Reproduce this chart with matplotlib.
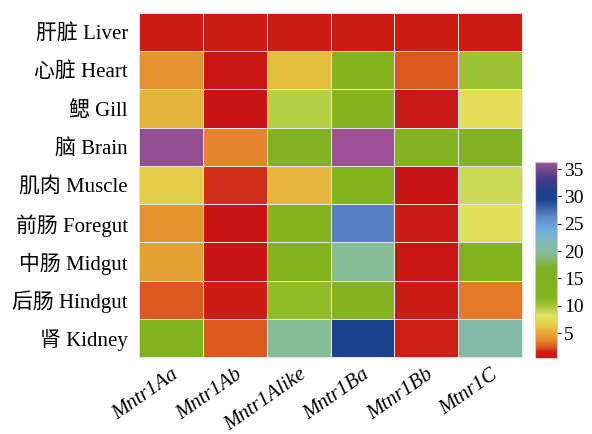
import numpy as np
import matplotlib
matplotlib.use('Agg')
import matplotlib.pyplot as plt
from matplotlib.colors import LinearSegmentedColormap

plt.rcParams['font.family'] = ['Liberation Serif', 'Noto Sans CJK SC']

tissues = ['肝脏 Liver', '心脏 Heart', '鳃 Gill', '脑 Brain', '肌肉 Muscle',
           '前肠 Foregut', '中肠 Midgut', '后肠 Hindgut', '肾 Kidney']
genes = ['Mntr1Aa', 'Mntr1Ab', 'Mntr1Alike', 'Mntr1Ba', 'Mtnr1Bb', 'Mtnr1C']

liver = [1.0, 1.0, 1.0, 1.0, 1.0, 1.0]
heart = [4.2, 0.6, 5.9, 12.5, 2.5, 10.3]
gill = [5.6, 0.43, 9.3, 12.0, 0.9, 7.6]
brain = [36.0, 3.6, 14.0, 36.3, 14.0, 14.0]
muscle = [6.6, 1.8, 5.7, 12.5, 0.5, 8.7]
foregut = [4.2, 0.45, 12.5, 26.5, 0.9, 7.9]
midgut = [4.9, 0.45, 13.5, 19.5, 0.7, 13.5]
hindgut = [2.4, 1.2, 10.8, 12.2, 1.1, 3.3]
kidney = [13.5, 2.4, 19.5, 30.0, 1.3, 20.5]

vmin, vmax = 0.43, 36.3
cbar_ticks = [5, 10, 15, 20, 25, 30, 35]

# colour ramp anchors (value, colour)
anchors = [(0.43, '#C81414'), (1.5, '#CC2216'), (2.5, '#DC6020'),
           (3.7, '#E58A2E'), (5.5, '#E5B43C'), (7.3, '#E3DC52'),
           (8.2, '#E0E262'), (8.8, '#C8D855'), (10, '#A2C438'),
           (11.5, '#86B422'), (15, '#80B020'), (17, '#7CB028'),
           (19.5, '#86BC96'), (22, '#80B8C0'), (24, '#6EAEE0'),
           (26.5, '#5B82C4'), (29.5, '#1A4290'), (31, '#1E3F88'),
           (33.5, '#4A3A88'), (36.3, '#9A5294')]
cmap = LinearSegmentedColormap.from_list(
    'ramp', [((v - vmin) / (vmax - vmin), c) for v, c in anchors])

data = np.array([liver, heart, gill, brain, muscle,
                 foregut, midgut, hindgut, kidney])

fig = plt.figure(figsize=(5.92, 4.34), dpi=100)
ax = fig.add_axes([0.2348, 0.1774, 0.647, 0.7926])
mesh = ax.pcolormesh(data, cmap=cmap, vmin=vmin, vmax=vmax,
                     edgecolor='#e6e6e6', linewidth=0.6)
ax.set_xlim(0, len(genes))
ax.set_ylim(len(tissues), 0)
ax.set_xticks(np.arange(len(genes)) + 0.5)
ax.set_yticks(np.arange(len(tissues)) + 0.5)
ax.set_yticklabels(tissues, fontsize=15)
ax.set_xticklabels(genes, fontsize=15, fontstyle='italic',
                   rotation=35, ha='right', rotation_mode='anchor')
ax.tick_params(length=0, pad=8)
ax.tick_params(axis='x', pad=6)
for s in ax.spines.values():
    s.set_color('#e0e0e0')
    s.set_linewidth(0.6)

cax = fig.add_axes([0.9037, 0.1751, 0.037, 0.4516])
cb = fig.colorbar(mesh, cax=cax, ticks=cbar_ticks)
cb.outline.set_edgecolor('#d8c8cc')
cb.outline.set_linewidth(0.8)
cax.tick_params(labelsize=14, length=3, width=0.8, pad=2)

fig.savefig('out.png', dpi=100)
